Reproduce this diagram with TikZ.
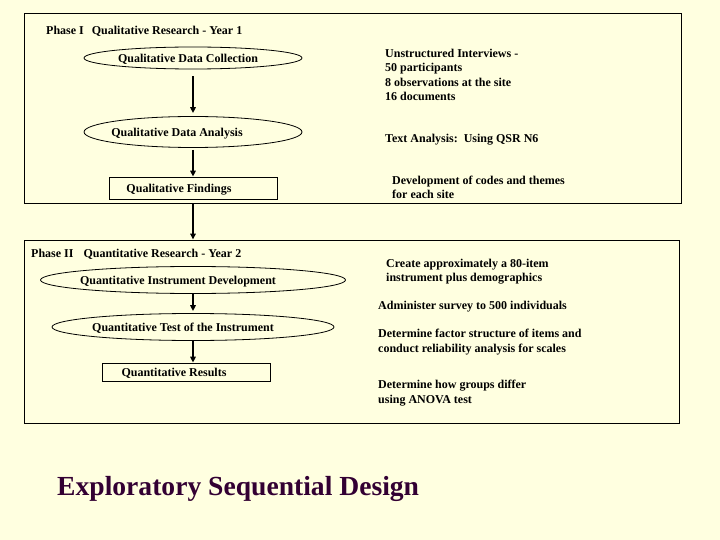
\documentclass[tikz,border=0pt]{standalone}
\usepackage{fontspec}
\setmainfont{Liberation Serif}
\usepackage{xcolor}
\definecolor{paperYellow}{HTML}{FFFFE0}
\definecolor{titlePurple}{HTML}{330033}
\definecolor{lineBlack}{HTML}{000000}
\usepackage{tikz}
\usetikzlibrary{
    shapes.geometric,
    arrows.meta,
    positioning
}
% text pushed left inside its shape
\newcommand{\pushleft}[2]{\makebox[0pt]{\hspace*{-#1}\hspace*{-#1}#2}}
\tikzset{
    % Base style for all text
    slide base/.style={
        font=\bfseries\fontsize{12}{14.3}\selectfont,
        text=black,
        inner sep=0pt,
    },
    % Single line text - sits a little low
    one line/.style={
        slide base,
        text height=11pt,
        text depth=1.5pt,
    },
    % Phase frames - plain rectangle
    phase frame/.style={
        rectangle,
        draw=lineBlack,
        line width=0.9pt,
        inner sep=0pt,
    },
    % Phase heading
    phase title/.style={
        one line,
        anchor=west,
    },
    % Step nodes - flat ellipse
    step oval/.style={
        one line,
        ellipse,
        draw=lineBlack,
        line width=0.8pt,
        fill=paperYellow,
        minimum width=218pt,
        minimum height=22pt,
    },
    % Result nodes - plain rectangle
    result box/.style={
        one line,
        rectangle,
        draw=lineBlack,
        line width=0.8pt,
        minimum width=168pt,
        minimum height=22pt,
    },
    % Notes on the right
    note/.style={
        slide base,
        anchor=west,
        align=left,
    },
    % Arrow style - short and heavy
    arrow/.style={
        -{Triangle[length=6pt, width=5.5pt]},
        line width=1.8pt,
        draw=lineBlack,
    },
}

\begin{document}
\begin{tikzpicture}[x=1pt, y=-1pt]
    \fill [paperYellow] (0,0) rectangle (720,540);
    \useasboundingbox (0,0) rectangle (720,540);

    % Phase I
    \node (phaseone) [phase frame, minimum width=657pt, minimum height=190pt] at (352.5,108) {};
    \node (titleone) [phase title] at (46,30) {Phase I\hspace{8pt}Qualitative Research - Year 1};
    \node (collect) [step oval] at (193,58) {\pushleft{5pt}{Qualitative Data Collection}};
    \node (analysis) [step oval, minimum height=31pt, below of=collect, node distance=74pt] {\pushleft{16pt}{Qualitative Data Analysis}};
    \node (findings) [result box, below of=analysis, node distance=56pt] {\pushleft{14pt}{Qualitative Findings}};

    % Phase II
    \node (phasetwo) [phase frame, minimum width=655pt, minimum height=183pt] at (351.5,331.5) {};
    \node (titletwo) [phase title] at (31,253) {Phase II\hspace{10pt}Quantitative Research - Year 2};
    \node (instrument) [step oval, minimum width=305pt, minimum height=27pt] at (193,280) {\pushleft{15pt}{Quantitative Instrument Development}};
    \node (testing) [step oval, minimum width=282pt, minimum height=27pt, below of=instrument, node distance=47pt] {\pushleft{10pt}{Quantitative Test of the Instrument}};
    \node (results) [result box, minimum height=18pt] at (186,372) {\pushleft{12pt}{Quantitative Results}};

    % Notes
    \node (interviews) [note] at (385,75) {Unstructured Interviews -\\50 participants\\8 observations at the site\\16 documents};
    \node (textanalysis) [note] at (385,139.5) {Text Analysis:\ \ Using QSR N6};
    \node (codes) [note] at (392,187) {Development of codes and themes\\for each site};
    \node (create) [note] at (386,272) {Create approximately a 80-item\\instrument plus demographics};
    \node (administer) [note] at (378,307) {Administer survey to 500 individuals};
    \node (factor) [note] at (378,342) {Determine factor structure of items and\\conduct reliability analysis for scales};
    \node (anova) [note] at (378,393) {Determine how groups differ\\using ANOVA test};

    \node (design) [anchor=base west, inner sep=0pt, text=titlePurple, font=\bfseries\fontsize{27.6}{32}\selectfont] at (57,495) {Exploratory Sequential Design};

    \draw [arrow, shorten <=7pt, shorten >=3pt] (collect) -- (analysis);
    \draw [arrow, shorten <=2pt] (analysis) -- (findings);
    \draw [arrow] (findings |- phaseone.south) -- (findings |- phasetwo.north);
    \draw [arrow, shorten >=2pt] (instrument) -- (testing);
    \draw [arrow] (testing) -- (testing.south |- results.north);
\end{tikzpicture}
\end{document}
